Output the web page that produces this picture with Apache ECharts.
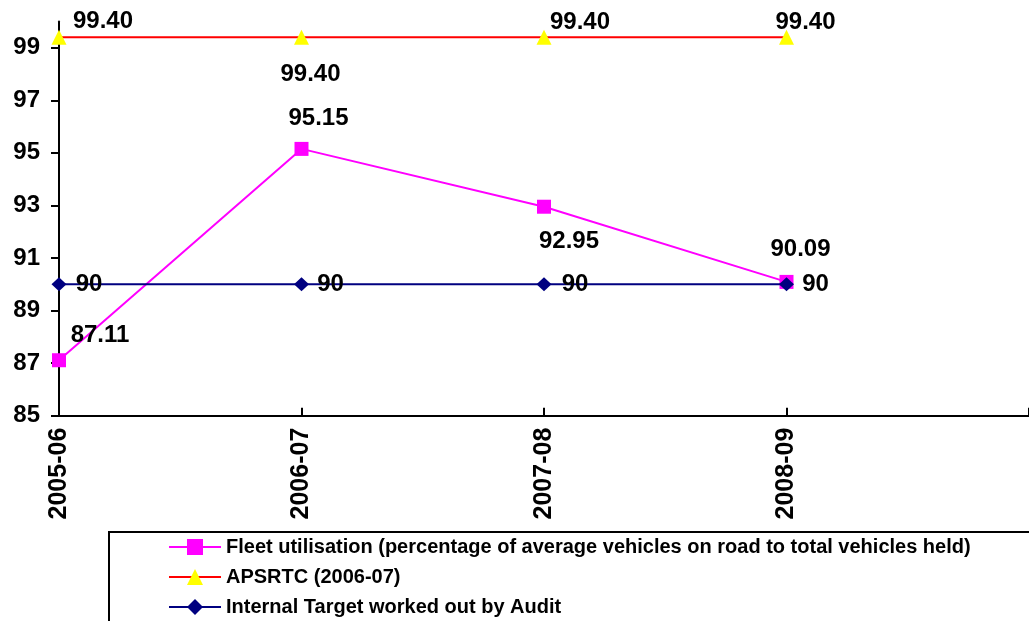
<!DOCTYPE html>
<html>
<head>
<meta charset="utf-8">
<title>Fleet utilisation</title>
<script src="https://cdn.jsdelivr.net/npm/echarts@6/dist/echarts.min.js"></script>
<style>
  html, body { margin: 0; padding: 0; background: #fff; }
  #chart { width: 1029px; height: 621px; }
</style>
</head>
<body>
<div id="chart"></div>
<script>
// Years on the category axis (the last slot is left empty so the axis runs on)
const categories = ['2005-06', '2006-07', '2007-08', '2008-09', ''];

// Series values (per cent)
const fleetUtilisation = [87.11, 95.15, 92.95, 90.09];
const apsrtcBenchmark = [99.40, 99.40, 99.40, 99.40];
const auditTarget = [90, 90, 90, 90];

// Value-axis ticks
const yTicks = [85, 87, 89, 91, 93, 95, 97, 99];

const seriesNames = [
  'Fleet utilisation (percentage of average vehicles on road to total vehicles held)',
  'APSRTC (2006-07)',
  'Internal Target worked out by Audit'
];

// Label placement relative to each point (pixels)
const fleetLabelOffsets = [[41, -25], [17, -31], [25, 35], [14, -33]];
const apsrtcLabelOffsets = [[44, -16], [9, 37], [36, -15], [19, -15]];
const targetLabelOffsets = [[30, 0], [29, 0], [31, 0], [29, 0]];

const FONT = '"Liberation Sans", Arial, Helvetica, sans-serif';

function labelled(values, offsets, fmt) {
  return values.map((v, i) => ({
    value: v,
    label: { offset: offsets[i], formatter: () => fmt(v) }
  }));
}

const baseLabel = {
  show: true,
  position: 'inside',
  color: '#000',
  fontFamily: FONT,
  fontWeight: 'bold',
  fontSize: 24
};

const chart = echarts.init(document.getElementById('chart'), null, { renderer: 'canvas' });

chart.setOption({
  animation: false,
  backgroundColor: '#fff',
  textStyle: { fontFamily: FONT },
  grid: { left: 59, right: 0, top: 21.4, bottom: 205.3, containLabel: false },
  xAxis: {
    type: 'category',
    data: categories,
    boundaryGap: false,
    axisLine: { lineStyle: { color: '#000', width: 2 } },
    axisTick: { show: true, inside: true, length: 8, lineStyle: { color: '#000', width: 2 } },
    axisLabel: {
      rotate: 90,
      margin: 12,
      color: '#000',
      fontFamily: FONT,
      fontWeight: 'bold',
      fontSize: 25,
      interval: 0
    },
    splitLine: { show: false }
  },
  yAxis: {
    type: 'value',
    min: 85,
    max: 100,
    interval: 1,
    axisLine: { show: true, lineStyle: { color: '#000', width: 2 } },
    axisTick: { show: true, length: 8, customValues: yTicks, lineStyle: { color: '#000', width: 2 } },
    axisLabel: {
      customValues: yTicks,
      margin: 19,
      color: '#000',
      fontFamily: FONT,
      fontWeight: 'bold',
      fontSize: 24
    },
    splitLine: { show: false }
  },
  legend: {
    orient: 'vertical',
    left: 168,
    top: 537,
    padding: 0,
    itemWidth: 52,
    itemHeight: 20,
    itemGap: 10,
    data: seriesNames,
    textStyle: { color: '#000', fontFamily: FONT, fontWeight: 'bold', fontSize: 20 }
  },
  graphic: [{
    type: 'rect',
    z: 0,
    shape: { x: 109, y: 532, width: 930, height: 100 },
    style: { fill: 'none', stroke: '#000', lineWidth: 2 }
  }],
  series: [
    {
      name: seriesNames[0],
      type: 'line',
      data: labelled(fleetUtilisation, fleetLabelOffsets, v => v.toFixed(2)),
      symbol: 'rect',
      symbolSize: 14,
      lineStyle: { color: '#ff00ff', width: 2 },
      itemStyle: { color: '#ff00ff' },
      label: baseLabel,
      z: 2
    },
    {
      name: seriesNames[1],
      type: 'line',
      data: labelled(apsrtcBenchmark, apsrtcLabelOffsets, v => v.toFixed(2)),
      symbol: 'triangle',
      symbolSize: [15, 15],
      lineStyle: { color: '#ff0000', width: 2 },
      itemStyle: { color: '#ffff00' },
      label: baseLabel,
      z: 3
    },
    {
      name: seriesNames[2],
      type: 'line',
      data: labelled(auditTarget, targetLabelOffsets, v => String(v)),
      symbol: 'diamond',
      symbolSize: [15, 14],
      lineStyle: { color: '#000080', width: 2 },
      itemStyle: { color: '#000080' },
      label: baseLabel,
      z: 4
    }
  ]
});
</script>
</body>
</html>
